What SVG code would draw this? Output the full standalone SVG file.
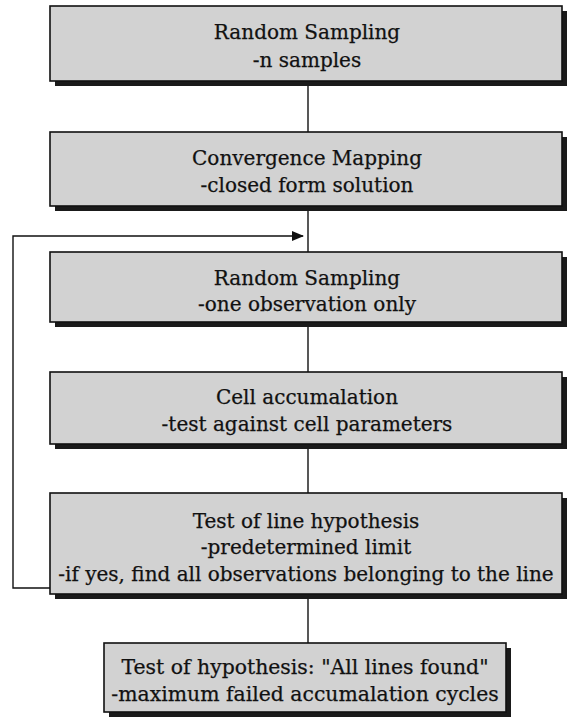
<svg xmlns="http://www.w3.org/2000/svg" width="571" height="717" viewBox="0 0 571 717">
<style>
.bg{fill:#ffffff}
.shadow{fill:#1a1a1a}
.box{fill:#d2d2d2;stroke:#111;stroke-width:1.6}
.t{font-family:"DejaVu Serif","Liberation Serif",serif;font-size:20px;fill:#111;text-anchor:middle;stroke:#111;stroke-width:0.25}
.t6{font-size:20.4px}
.c{stroke:#111;stroke-width:1.4;fill:none}
</style>
<defs>
<marker id="ah" markerWidth="12" markerHeight="10" refX="11" refY="5" orient="auto" markerUnits="userSpaceOnUse">
<path d="M0,0 L12,5 L0,10 Z" fill="#111"/>
</marker>
</defs>
<rect class="bg" x="0" y="0" width="571" height="717"/>
<g id="connectors">
<line class="c" x1="308" y1="86" x2="308" y2="132"/>
<line class="c" x1="308" y1="211" x2="308" y2="252"/>
<line class="c" x1="308" y1="327" x2="308" y2="372"/>
<line class="c" x1="308" y1="449" x2="308" y2="493"/>
<line class="c" x1="308" y1="599" x2="308" y2="643"/>
<polyline class="c" points="50,588 13,588 13,236 303,236" marker-end="url(#ah)"/>
</g>
<g id="n1">
<rect class="shadow" x="55" y="11" width="512" height="75"/>
<rect class="box" x="50" y="6" width="512" height="75"/>
<text class="t" x="307" y="39">Random Sampling</text>
<text class="t" x="307" y="67">-n samples</text>
</g>
<g id="n2">
<rect class="shadow" x="55" y="137" width="512" height="74"/>
<rect class="box" x="50" y="132" width="512" height="74"/>
<text class="t" x="307" y="165">Convergence Mapping</text>
<text class="t" x="307" y="192">-closed form solution</text>
</g>
<g id="n3">
<rect class="shadow" x="55" y="257" width="512" height="70"/>
<rect class="box" x="50" y="252" width="512" height="70"/>
<text class="t" x="307" y="285">Random Sampling</text>
<text class="t" x="307" y="311">-one observation only</text>
</g>
<g id="n4">
<rect class="shadow" x="55" y="377" width="512" height="72"/>
<rect class="box" x="50" y="372" width="512" height="72"/>
<text class="t" x="307" y="404">Cell accumalation</text>
<text class="t" x="307" y="431">-test against cell parameters</text>
</g>
<g id="n5">
<rect class="shadow" x="55" y="498" width="512" height="101"/>
<rect class="box" x="50" y="493" width="512" height="101"/>
<text class="t" x="306" y="528">Test of line hypothesis</text>
<text class="t" x="306" y="554">-predetermined limit</text>
<text class="t" x="306" y="581">-if yes, find all observations belonging to the line</text>
</g>
<g id="n6">
<rect class="shadow" x="109" y="648" width="402" height="69"/>
<rect class="box" x="104" y="643" width="402" height="69"/>
<text class="t t6" x="305" y="674">Test of hypothesis: "All lines found"</text>
<text class="t t6" x="305" y="701">-maximum failed accumalation cycles</text>
</g>
</svg>
